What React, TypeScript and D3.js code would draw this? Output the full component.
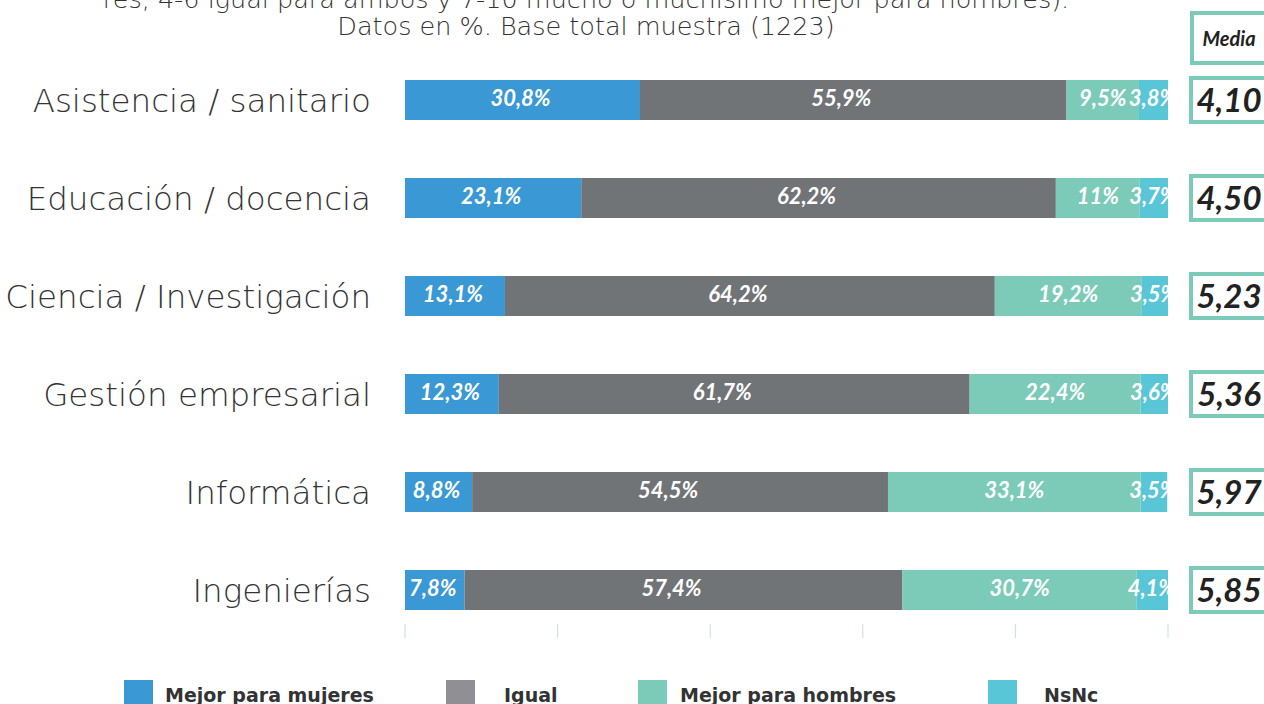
import React from 'react';
import * as d3 from 'd3';

const categories = [
  'Asistencia / sanitario',
  'Educación / docencia',
  'Ciencia / Investigación',
  'Gestión empresarial',
  'Informática',
  'Ingenierías',
];
const seriesNames = ['Mejor para mujeres', 'Igual', 'Mejor para hombres', 'NsNc'];
const mujeres = [30.8, 23.1, 13.1, 12.3, 8.8, 7.8];
const igual = [55.9, 62.2, 64.2, 61.7, 54.5, 57.4];
const hombres = [9.5, 11, 19.2, 22.4, 33.1, 30.7];
const nsnc = [3.8, 3.7, 3.5, 3.6, 3.5, 4.1];
const labelsText = [
  ['30,8%', '55,9%', '9,5%', '3,8%'],
  ['23,1%', '62,2%', '11%', '3,7%'],
  ['13,1%', '64,2%', '19,2%', '3,5%'],
  ['12,3%', '61,7%', '22,4%', '3,6%'],
  ['8,8%', '54,5%', '33,1%', '3,5%'],
  ['7,8%', '57,4%', '30,7%', '4,1%'],
];
const medias = ['4,10', '4,50', '5,23', '5,36', '5,97', '5,85'];
const ticks = [0, 20, 40, 60, 80, 100];
const titleLines = [
  'res, 4-6 igual para ambos y 7-10 mucho o muchísimo mejor para hombres).',
  'Datos en %. Base total muestra (1223)',
];

const colors = ['#3a98d4', '#717477', '#7ccbb8', '#58c6d6'];
const legendColors = ['#3a98d4', '#909094', '#7ccbb8', '#58c6d6'];
const labelShift = [-2, -12, 0, -1];
const font = '"DejaVu Sans", "Noto Sans", sans-serif';
const numFont = 'Lato, "Noto Sans", sans-serif';

export default function App() {
  const width = 1264;
  const height = 704;

  const x = d3.scaleLinear().domain([0, 100]).range([405, 1168]);
  // step 98, bars 40 tall
  const y = d3.scaleBand().domain(categories).range([80, 80 + 98 * 5 + 40]).paddingInner(58 / 98).paddingOuter(0);

  const table = categories.map((c, i) => [mujeres[i], igual[i], hombres[i], nsnc[i]]);
  const stacked = table.map((row) => {
    let acc = 0;
    return row.map((v) => {
      const s = [acc, acc + v];
      acc += v;
      return s;
    });
  });

  const legendX = [124, 446, 638, 988];
  const legendTextX = [165, 504, 680, 1044];

  return (
    <div style={{ position: 'fixed', left: 0, top: 0, width, height, overflow: 'hidden' }}>
      <svg width={width} height={height} style={{ display: 'block' }}>
        <rect width={width} height={height} fill="#fff" />
        {titleLines.map((t, i) => (
          <text key={i} x={586} y={8 + i * 27} textAnchor="middle" fontFamily={font} fontWeight={200} fontSize={25.5} fill="#333">
            {t}
          </text>
        ))}

        {categories.map((c, i) => {
          const by = y(c) as number;
          const bh = y.bandwidth();
          return (
            <g key={c}>
              <text x={371} y={by + bh / 2} dy="0.36em" textAnchor="end" fontFamily={font} fontWeight={200} fontSize={32.5} fill="#333">
                {c}
              </text>
              {stacked[i].map((s, j) => (
                <rect key={j} x={x(s[0])} y={by} width={x(s[1]) - x(s[0])} height={bh} fill={colors[j]} />
              ))}
              {stacked[i].map((s, j) => (
                <text key={'t' + j} x={(x(s[0]) + x(s[1])) / 2 + labelShift[j]} y={by + bh / 2 - 2} dy="0.35em" textAnchor="middle"
                  fontFamily={numFont} fontWeight={700} fontStyle="italic" fontSize={22} fill="#fff">
                  {labelsText[i][j]}
                </text>
              ))}
              <rect x={1191} y={by - 2} width={80} height={44} fill="#fff" stroke="#7ccbb8" strokeWidth={4} />
              <text x={1229} y={by + bh / 2} dy="0.36em" textAnchor="middle" fontFamily={numFont} fontWeight={700}
                fontStyle="italic" fontSize={33} fill="#222">
                {medias[i]}
              </text>
            </g>
          );
        })}

        <rect x={1192} y={13} width={80} height={50} fill="#fff" stroke="#7ccbb8" strokeWidth={4} />
        <text x={1229} y={39} dy="0.35em" textAnchor="middle" fontFamily={numFont} fontWeight={700} fontStyle="italic" fontSize={20} fill="#222">
          Media
        </text>

        {ticks.map((t) => (
          <line key={t} x1={x(t)} x2={x(t)} y1={624} y2={638} stroke="#c9dddd" strokeWidth={1} />
        ))}

        {seriesNames.map((n, i) => (
          <g key={n}>
            <rect x={legendX[i]} y={680} width={29} height={30} fill={legendColors[i]} />
            <text x={legendTextX[i]} y={702} fontFamily={font} fontWeight={700} fontSize={19} fill="#333">
              {n}
            </text>
          </g>
        ))}
      </svg>
    </div>
  );
}
